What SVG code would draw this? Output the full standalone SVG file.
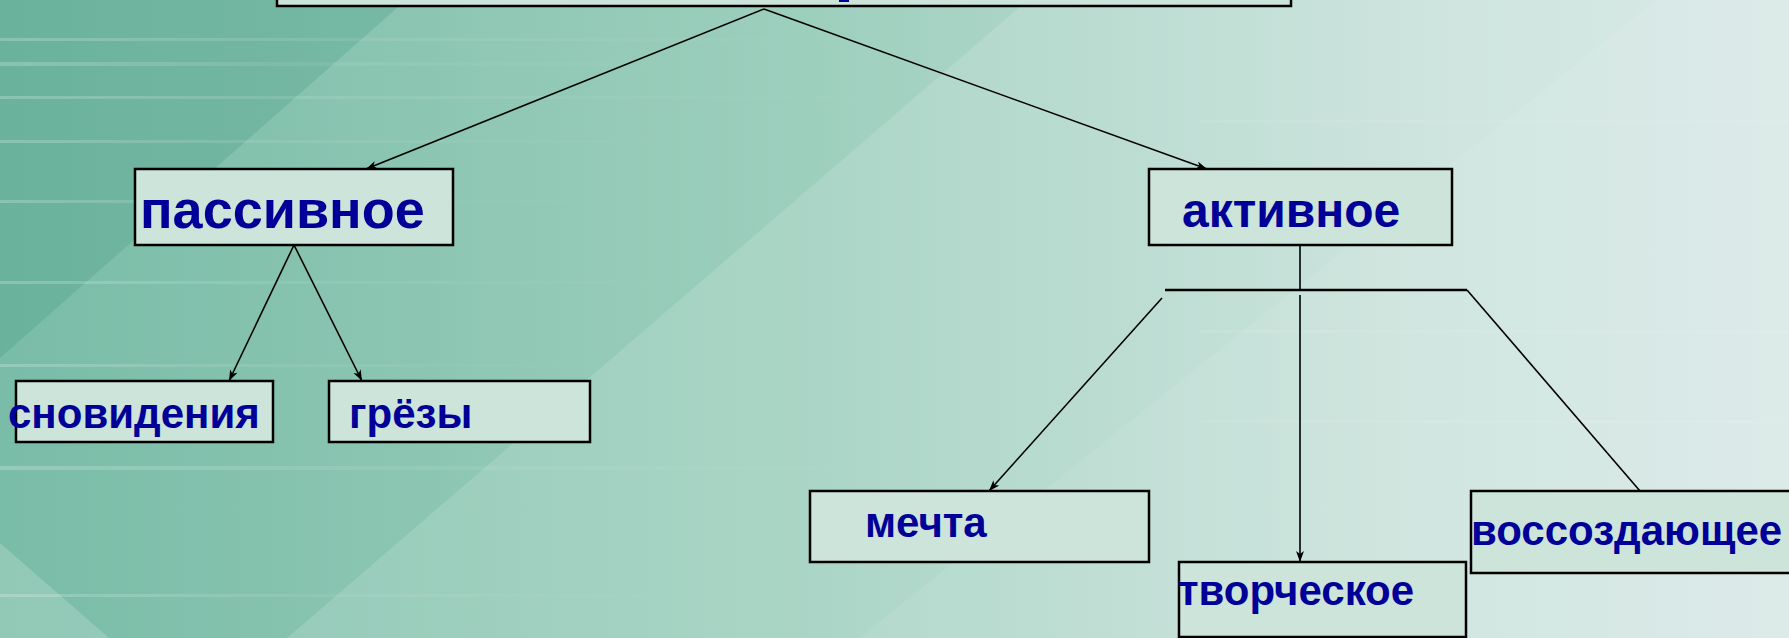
<svg xmlns="http://www.w3.org/2000/svg" width="1789" height="638" viewBox="0 0 1789 638">
  <defs>
    <linearGradient id="bg" x1="0" y1="0" x2="1" y2="0">
      <stop offset="0" stop-color="#79bca7"/>
      <stop offset="0.45" stop-color="#9dcfbd"/>
      <stop offset="0.8" stop-color="#c6e0d9"/>
      <stop offset="1" stop-color="#d4e7e4"/>
    </linearGradient>
    <linearGradient id="streak" x1="0" y1="0" x2="1" y2="0">
      <stop offset="0" stop-color="#ffffff" stop-opacity="0.22"/>
      <stop offset="0.4" stop-color="#ffffff" stop-opacity="0.08"/>
      <stop offset="1" stop-color="#ffffff" stop-opacity="0"/>
    </linearGradient>
    <marker id="arr" markerUnits="userSpaceOnUse" markerWidth="12" markerHeight="9" refX="11" refY="4" orient="auto">
      <path d="M0,0 L11,4 L0,8 L3,4 z" fill="#000"/>
    </marker>
    <style>
      .box { fill: #cde4da; stroke: #000; stroke-width: 2.5; }
      .lbl { font-family: "Liberation Sans", Arial, sans-serif; font-weight: bold; fill: #000099; }
      .con { stroke: #000; stroke-width: 1.6; fill: none; }
      .arrow { marker-end: url(#arr); }
    </style>
  </defs>

  <!-- background -->
  <g id="background">
    <rect x="0" y="0" width="1789" height="638" fill="url(#bg)"/>
    <polygon points="0,0 406,0 0,358" fill="#4a9c86" fill-opacity="0.3"/>
    <polygon points="1028,0 1789,0 1789,638 287,638" fill="#ffffff" fill-opacity="0.14"/>
    <polygon points="1656,0 1789,0 1789,638 859,638" fill="#ffffff" fill-opacity="0.08"/>
    <polygon points="0,543 109,638 0,638" fill="#ffffff" fill-opacity="0.18"/>
    <g fill="url(#streak)">
      <rect x="0" y="38" width="900" height="3"/>
      <rect x="0" y="62" width="700" height="4"/>
      <rect x="0" y="96" width="900" height="3"/>
      <rect x="0" y="140" width="700" height="3"/>
      <rect x="0" y="200" width="600" height="3"/>
      <rect x="0" y="281" width="700" height="3"/>
      <rect x="0" y="364" width="600" height="3"/>
      <rect x="0" y="466" width="900" height="4"/>
      <rect x="0" y="594" width="700" height="3"/>
      <rect x="1200" y="120" width="589" height="3" fill="#ffffff" fill-opacity="0.08"/>
      <rect x="1200" y="330" width="589" height="3" fill="#ffffff" fill-opacity="0.08"/>
      <rect x="1200" y="420" width="589" height="3" fill="#ffffff" fill-opacity="0.08"/>
    </g>
  </g>

  <g id="connectors">
    <line class="con arrow" x1="764" y1="9" x2="366" y2="169"/>
    <line class="con arrow" x1="764" y1="9" x2="1207" y2="169"/>
    <line class="con arrow" x1="294" y1="245" x2="229" y2="381"/>
    <line class="con arrow" x1="294" y1="245" x2="362" y2="381"/>
    <line class="con" x1="1300" y1="245" x2="1300" y2="289"/>
    <line class="con" x1="1165" y1="290" x2="1467" y2="290" style="stroke-width:2.5"/>
    <line class="con arrow" x1="1162" y1="298" x2="989" y2="491"/>
    <line class="con arrow" x1="1300" y1="295" x2="1300" y2="562"/>
    <line class="con" x1="1467" y1="290" x2="1640" y2="491"/>
  </g>

  <g id="node-top">
    <rect class="box" x="277" y="-50" width="1014" height="56"/>
    <rect x="839" y="0" width="10" height="2" fill="#000099"/>
  </g>
  <g id="node-passive">
    <rect class="box" x="135" y="169" width="318" height="76"/>
    <text class="lbl" x="140" y="228" font-size="54">пассивное</text>
  </g>
  <g id="node-active">
    <rect class="box" x="1149" y="169" width="303" height="76"/>
    <text class="lbl" x="1182" y="227" font-size="48">активное</text>
  </g>
  <g id="node-dreams">
    <rect class="box" x="16" y="381" width="257" height="61"/>
    <text class="lbl" x="8" y="428" font-size="42">сновидения</text>
  </g>
  <g id="node-reverie">
    <rect class="box" x="329" y="381" width="261" height="61"/>
    <text class="lbl" x="349" y="428" font-size="42">грёзы</text>
  </g>
  <g id="node-dream">
    <rect class="box" x="810" y="491" width="339" height="71"/>
    <text class="lbl" x="865" y="537" font-size="42">мечта</text>
  </g>
  <g id="node-creative">
    <rect class="box" x="1179" y="562" width="287" height="75"/>
    <text class="lbl" x="1178" y="605" font-size="42">творческое</text>
  </g>
  <g id="node-recreative">
    <rect class="box" x="1471" y="491" width="330" height="82"/>
    <text class="lbl" x="1471" y="545" font-size="42">воссоздающее</text>
  </g>
</svg>
